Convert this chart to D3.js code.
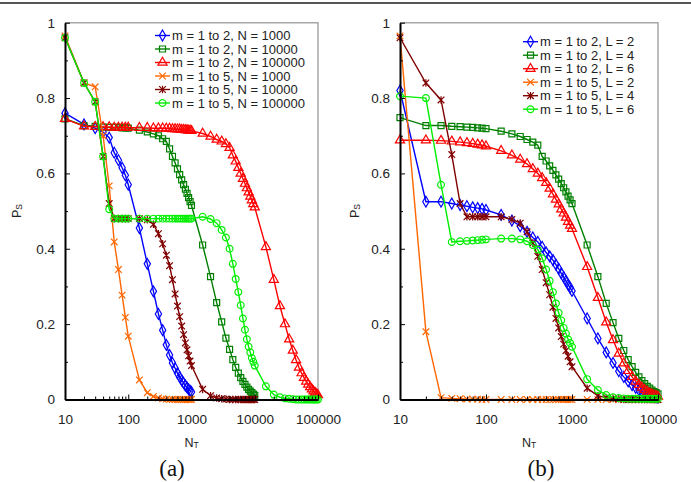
<!DOCTYPE html>
<html>
<head>
<meta charset="utf-8">
<script src="https://cdn.jsdelivr.net/npm/d3@7"></script>
<style>
  body { margin: 0; background: #fff; }
  svg { display: block; font-family: "Liberation Sans", Arial, sans-serif; }
  .axis path, .axis line { stroke: #000; }
  .axis text { font-size: 13.5px; fill: #222; }
</style>
</head>
<body>
<svg id="chart" width="691" height="482"></svg>
<script>
// N_T grids (x values)
var nT1000 = [10,20,30,40,50,60,70,80,90,100,150,200,250,300,350,400,450,500,550,600,650,700,750,800,850,900,950,1000];
var nT10000 = nT1000.concat([1500,2000,2500,3000,3500,4000,4500,5000,5500,6000,6500,7000,7500,8000,8500,9000,9500,10000]);
var nT100000 = nT10000.concat([15000,20000,25000,30000,35000,40000,45000,50000,55000,60000,65000,70000,75000,80000,85000,90000,95000,100000]);

var xTicksA = [10, 100, 1000, 10000, 100000];
var xTicksB = [10, 100, 1000, 10000];
var yTicks = [0, 0.2, 0.4, 0.6, 0.8, 1];

var labelsA = ["m = 1 to 2, N = 1000", "m = 1 to 2, N = 10000", "m = 1 to 2, N = 100000",
               "m = 1 to 5, N = 1000", "m = 1 to 5, N = 10000", "m = 1 to 5, N = 100000"];
var labelsB = ["m = 1 to 2, L = 2", "m = 1 to 2, L = 4", "m = 1 to 2, L = 6",
               "m = 1 to 5, L = 2", "m = 1 to 5, L = 4", "m = 1 to 5, L = 6"];

// panel (a) P_S values
var a12N1000 = [0.76,0.73,0.72,0.71,0.695,0.655,0.635,0.615,0.595,0.57,
  0.455,0.36,0.287,0.227,0.184,0.145,0.118,0.097,0.083,0.07,0.06,0.051,0.044,0.037,0.032,0.027,0.023,0.02];
var a12N10000 = [0.745,0.727,0.725,0.723,0.722,0.722,0.722,0.721,0.721,0.72,
  0.715,0.71,0.705,0.7,0.692,0.685,0.665,0.645,0.628,0.612,0.597,0.583,0.57,0.558,0.547,0.536,0.525,0.515,
  0.41,0.326,0.257,0.206,0.163,0.133,0.106,0.085,0.07,0.058,0.048,0.04,0.033,0.027,0.022,0.018,0.014,0.011];
var a12N100000 = [0.745,0.725,0.724,0.723,0.723,0.722,0.722,0.722,0.722,0.722,
  0.721,0.721,0.72,0.72,0.72,0.719,0.719,0.718,0.718,0.717,0.717,0.716,0.716,0.715,0.715,0.714,0.714,0.713,
  0.706,0.698,0.69,0.685,0.678,0.668,0.648,0.632,0.615,0.6,0.586,0.573,0.561,0.55,0.539,0.529,0.519,0.51,
  0.405,0.318,0.248,0.2,0.16,0.13,0.105,0.085,0.07,0.058,0.048,0.04,0.033,0.027,0.022,0.018,0.015,0.012];
var a15N1000 = [0.965,0.84,0.83,0.7,0.567,0.418,0.345,0.277,0.218,0.168,
  0.052,0.018,0.008,0.004,0.002,0.001,0,0,0,0,0,0,0,0,0,0,0,0];
var a15N10000 = [0.96,0.84,0.79,0.645,0.52,0.48,0.48,0.48,0.48,0.48,
  0.48,0.477,0.465,0.44,0.413,0.383,0.355,0.318,0.28,0.248,0.22,0.195,0.172,0.15,0.132,0.116,0.102,0.09,
  0.027,0.01,0.004,0.002,0.001,0,0,0,0,0,0,0,0,0,0,0,0,0];
var a15N100000 = [0.96,0.84,0.79,0.645,0.505,0.48,0.48,0.48,0.48,0.48,
  0.48,0.48,0.48,0.48,0.48,0.48,0.48,0.48,0.48,0.48,0.48,0.48,0.48,0.48,0.48,0.48,0.48,0.48,
  0.485,0.479,0.468,0.45,0.43,0.4,0.36,0.32,0.285,0.25,0.215,0.185,0.16,0.14,0.125,0.11,0.1,0.09,
  0.035,0.013,0.006,0.003,0.002,0.001,0,0,0,0,0,0,0,0,0,0,0,0];

// panel (b) P_S values
var b12L2 = [0.82,0.525,0.525,0.52,0.516,0.513,0.51,0.508,0.506,0.503,
  0.49,0.475,0.46,0.445,0.43,0.418,0.405,0.39,0.38,0.37,0.358,0.347,0.335,0.325,0.315,0.305,0.297,0.288,
  0.215,0.162,0.125,0.097,0.075,0.06,0.048,0.038,0.031,0.025,0.02,0.016,0.013,0.01,0.008,0.007,0.006,0.005];
var b12L4 = [0.748,0.727,0.727,0.725,0.724,0.723,0.722,0.721,0.72,0.719,
  0.712,0.705,0.698,0.69,0.683,0.675,0.645,0.633,0.62,0.608,0.596,0.585,0.573,0.562,0.551,0.54,0.53,0.52,
  0.41,0.326,0.255,0.204,0.162,0.13,0.106,0.087,0.072,0.06,0.05,0.042,0.035,0.03,0.025,0.021,0.018,0.015];
var b12L6 = [0.688,0.688,0.687,0.685,0.683,0.681,0.679,0.677,0.675,0.672,
  0.66,0.648,0.637,0.625,0.612,0.6,0.588,0.575,0.56,0.545,0.531,0.518,0.505,0.494,0.483,0.472,0.462,0.453,
  0.352,0.27,0.205,0.158,0.122,0.096,0.076,0.06,0.048,0.039,0.032,0.026,0.021,0.017,0.014,0.012,0.01,0.008];
var b15L2 = [0.965,0.18,0.005,0.003,0.002,0.001,0.001,0.001,0,0,
  0,0,0,0,0,0,0,0,0,0,0,0,0,0,0,0,0,0,
  0,0,0,0,0,0,0,0,0,0,0,0,0,0,0,0,0,0];
var b15L4 = [0.96,0.84,0.795,0.65,0.52,0.485,0.485,0.485,0.485,0.485,
  0.485,0.478,0.468,0.445,0.415,0.38,0.345,0.31,0.278,0.245,0.215,0.19,0.167,0.147,0.13,0.115,0.1,0.087,
  0.03,0.01,0.005,0.003,0.002,0,0,0,0,0,0,0,0,0,0,0,0,0];
var b15L6 = [0.805,0.8,0.57,0.418,0.42,0.421,0.422,0.423,0.424,0.425,
  0.427,0.427,0.425,0.42,0.41,0.398,0.375,0.345,0.315,0.285,0.255,0.23,0.21,0.19,0.175,0.16,0.15,0.14,
  0.054,0.025,0.012,0.006,0.004,0.003,0.002,0.002,0.002,0.002,0.002,0.002,0.002,0.002,0.002,0.002,0.002,0.002];

var colors = ["#0000ff", "#008000", "#ff0000", "#ff6600", "#800000", "#00ee00"];
var shapes = ["diamond", "square", "triangle", "cross", "star", "circle"];

var svg = d3.select("#chart");

// top rule
svg.append("line").attr("x1", 0).attr("x2", 691).attr("y1", 3).attr("y2", 3)
  .attr("stroke", "#555").attr("stroke-width", 2);

function markerPath(shape) {
  if (shape === "diamond") return d3.symbol(d3.symbolDiamond, 34)();
  if (shape === "square") return d3.symbol(d3.symbolSquare, 36)();
  if (shape === "triangle") return d3.symbol(d3.symbolTriangle, 36)();
  if (shape === "circle") return d3.symbol(d3.symbolCircle, 36)();
  if (shape === "cross") return "M-3.3,-3.3L3.3,3.3M-3.3,3.3L3.3,-3.3";
  return "M-3.3,-3.3L3.3,3.3M-3.3,3.3L3.3,-3.3M0,-3.8L0,3.8";
}

function minorTicks(max) {
  var out = [];
  for (var d = 10; d < max; d *= 10)
    for (var k = 2; k <= 9; k++) out.push(d * k);
  return out;
}

function drawPanel(opt) {
  var g = svg.append("g");
  var x = d3.scaleLog().domain(opt.xDomain).range([opt.left, opt.right]);
  var y = d3.scaleLinear().domain([0, 1]).range([399.5, 22.7]);

  // top & right frame
  g.append("path")
    .attr("d", "M" + opt.left + "," + y(1) + "H" + opt.right + "V" + y(0))
    .attr("fill", "none").attr("stroke", "#a8a8a8").attr("stroke-width", 1.5);

  // series
  opt.series.forEach(function(s, i) {
    var pts = s.xs.map(function(v, j) { return [v, s.ys[j]]; });
    var line = d3.line().x(function(d) { return x(d[0]); }).y(function(d) { return y(d[1]); });
    g.append("path").datum(pts).attr("d", line)
      .attr("fill", "none").attr("stroke", colors[i]).attr("stroke-width", 1.4);
    g.selectAll(null).data(pts).enter().append("path")
      .attr("transform", function(d) { return "translate(" + x(d[0]) + "," + y(d[1]) + ")"; })
      .attr("d", markerPath(shapes[i]))
      .attr("fill", "none").attr("stroke", colors[i]).attr("stroke-width", 1.2);
  });

  // axes
  var xAxis = g.append("g").attr("class", "axis").attr("transform", "translate(0," + y(0) + ")")
    .call(d3.axisBottom(x).tickValues(opt.xTicks).tickFormat(d3.format("d"))
      .tickSizeInner(-5).tickSizeOuter(0).tickPadding(15));
  xAxis.select(".domain").attr("stroke-width", 2);
  g.append("g").attr("class", "axis").attr("transform", "translate(0," + y(0) + ")")
    .call(d3.axisBottom(x).tickValues(minorTicks(opt.xDomain[1])).tickFormat("")
      .tickSizeInner(-3).tickSizeOuter(0))
    .select(".domain").remove();

  var yAxis = g.append("g").attr("class", "axis").attr("transform", "translate(" + opt.left + ",0)")
    .call(d3.axisLeft(y).tickValues(yTicks).tickFormat(d3.format("~g"))
      .tickSizeInner(-5).tickSizeOuter(0).tickPadding(10));
  yAxis.select(".domain").attr("stroke-width", 2);
  g.append("g").attr("class", "axis").attr("transform", "translate(" + opt.left + ",0)")
    .call(d3.axisLeft(y).tickValues([0.1, 0.3, 0.5, 0.7, 0.9]).tickFormat("")
      .tickSizeInner(-3).tickSizeOuter(0))
    .select(".domain").remove();

  // axis titles
  var cx = (opt.left + opt.right) / 2;
  var xt = g.append("text").attr("x", cx).attr("y", 447).attr("text-anchor", "middle")
    .attr("font-size", 12.5).attr("fill", "#222");
  xt.append("tspan").text("N");
  xt.append("tspan").attr("font-size", 8.5).attr("dy", 1).text("T");

  var yt = g.append("text").attr("transform", "translate(" + opt.yLabelX + ",211) rotate(-90)")
    .attr("text-anchor", "middle").attr("font-size", 12.5).attr("fill", "#222");
  yt.append("tspan").text("P");
  yt.append("tspan").attr("font-size", 8.5).attr("dy", 1).text("S");

  // legend
  var lg = g.append("g");
  opt.labels.forEach(function(lab, i) {
    var ly = opt.legendY + i * 13.5;
    lg.append("line").attr("x1", opt.legendX).attr("x2", opt.legendX + 15)
      .attr("y1", ly).attr("y2", ly).attr("stroke", colors[i]).attr("stroke-width", 1.4);
    lg.append("path").attr("transform", "translate(" + (opt.legendX + 7.5) + "," + ly + ")")
      .attr("d", markerPath(shapes[i])).attr("fill", "none").attr("stroke", colors[i])
      .attr("stroke-width", 1.2);
    lg.append("text").attr("x", opt.legendX + 17).attr("y", ly).attr("dy", "0.35em")
      .attr("font-size", 13).attr("fill", "#222").text(lab);
  });

  // panel tag
  svg.append("text").attr("x", opt.tagX).attr("y", 476).attr("text-anchor", "middle")
    .attr("font-family", "'Liberation Serif', 'Times New Roman', serif").attr("font-size", 23)
    .attr("fill", "#111").text(opt.tag);
}

drawPanel({
  left: 65, right: 318, xDomain: [10, 100000], xTicks: xTicksA,
  series: [
    { xs: nT1000, ys: a12N1000 }, { xs: nT10000, ys: a12N10000 }, { xs: nT100000, ys: a12N100000 },
    { xs: nT1000, ys: a15N1000 }, { xs: nT10000, ys: a15N10000 }, { xs: nT100000, ys: a15N100000 }
  ],
  labels: labelsA, legendX: 155, legendY: 35.5, yLabelX: 21, tag: "(a)", tagX: 172
});

drawPanel({
  left: 400, right: 658, xDomain: [10, 10000], xTicks: xTicksB,
  series: [
    { xs: nT10000, ys: b12L2 }, { xs: nT10000, ys: b12L4 }, { xs: nT10000, ys: b12L6 },
    { xs: nT10000, ys: b15L2 }, { xs: nT10000, ys: b15L4 }, { xs: nT10000, ys: b15L6 }
  ],
  labels: labelsB, legendX: 523, legendY: 41.7, yLabelX: 359, tag: "(b)", tagX: 541
});
</script>
</body>
</html>
